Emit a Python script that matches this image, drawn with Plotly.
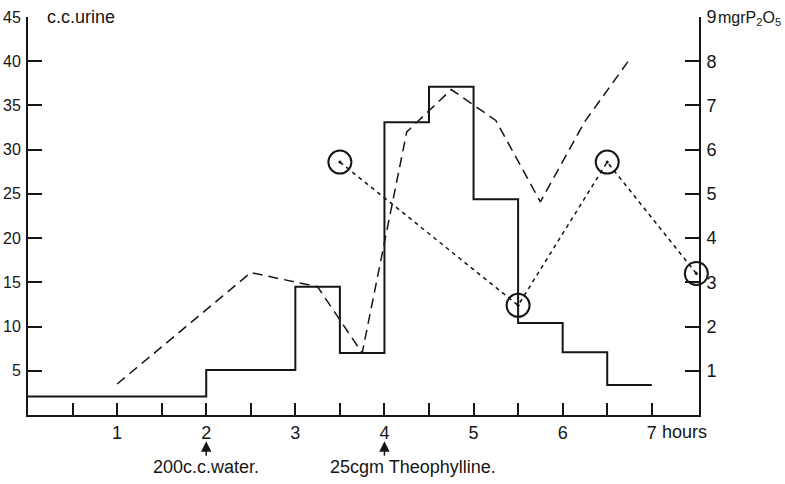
import plotly.graph_objects as go

# Urine volume (c.c.) per interval, step line (left axis)
step_x = [0, 2, 3, 3.5, 4, 4.5, 5, 5.5, 6, 6.5, 7]
step_y = [2.1, 5.1, 14.5, 7.0, 33.1, 37.1, 24.4, 10.4, 7.1, 3.4, 3.4]

# Dashed line (left-axis units)
dash_x = [1.0, 2.5, 3.25, 3.75, 4.25, 4.75, 5.25, 5.75, 6.25, 6.75]
dash_y = [3.5, 16.1, 14.5, 7.0, 32.0, 36.8, 33.3, 24.1, 33.2, 40.2]

# Dotted line with circles (mgr P2O5, right axis)
dot_x = [3.5, 5.5, 6.5, 7.5]
dot_y = [5.72, 2.48, 5.72, 3.2]

left_ticks = [5, 10, 15, 20, 25, 30, 35, 40, 45]
right_ticks = [1, 2, 3, 4, 5, 6, 7, 8, 9]
x_ticks = [1, 2, 3, 4, 5, 6, 7]
x_minor = [0.5, 1.5, 2.5, 3.5, 4.5, 5.5, 6.5]

INK = "#161616"
FONT = "Liberation Sans, Arial, sans-serif"

fig = go.Figure()
fig.add_trace(go.Scatter(x=step_x, y=step_y, mode="lines", line_shape="hv",
                         line=dict(color=INK, width=2), yaxis="y", showlegend=False))
fig.add_trace(go.Scatter(x=dash_x, y=dash_y, mode="lines",
                         line=dict(color=INK, width=1.5, dash="10px,6px"), yaxis="y", showlegend=False))
fig.add_trace(go.Scatter(x=dot_x, y=dot_y, mode="lines+markers",
                         line=dict(color=INK, width=1.5, dash="4px,4px"),
                         marker=dict(symbol="circle-open-dot", size=23, color=INK,
                                     line=dict(color=INK, width=2)),
                         cliponaxis=False, yaxis="y2", showlegend=False))

fig.update_layout(
    width=785, height=484, autosize=False,
    margin=dict(l=28, r=86, t=17, b=69, autoexpand=False),
    paper_bgcolor="white", plot_bgcolor="white",
    font=dict(family=FONT, size=18, color=INK),
    xaxis=dict(range=[0, 7.53], showgrid=False, zeroline=False, showline=True,
               automargin=False,
               linecolor=INK, linewidth=2, tickvals=x_ticks,
               ticktext=[str(v) for v in x_ticks], ticks="inside", ticklen=12,
               tickwidth=1.5, tickcolor=INK,
               minor=dict(tickvals=x_minor, ticks="inside", ticklen=12,
                          tickwidth=1.5, tickcolor=INK)),
    yaxis=dict(range=[0, 45], showgrid=False, zeroline=False, showline=True,
               automargin=False, tickfont=dict(size=16), ticklabelstandoff=2,
               linecolor=INK, linewidth=2, tickvals=left_ticks,
               ticks="inside", ticklen=14, tickwidth=1.5, tickcolor=INK),
    yaxis2=dict(range=[0, 9], overlaying="y", side="right", anchor="x",
                automargin=False, ticklabelstandoff=2,
                showgrid=False, zeroline=False, showline=True,
                linecolor=INK, linewidth=2, tickvals=right_ticks,
                ticks="inside", ticklen=14, tickwidth=1.5, tickcolor=INK),
)

ann = [
    dict(text="c.c.urine", xref="paper", yref="paper", x=0.025, y=1.0,
         xanchor="left", yanchor="middle", showarrow=False),
    dict(text="mgrP<sub>2</sub>O<sub>5</sub>", xref="paper", yref="paper", x=1.025, y=0.995,
         xanchor="left", yanchor="middle", showarrow=False, font=dict(size=16)),
    dict(text="hours", xref="paper", yref="paper", x=0.942, y=-0.043,
         xanchor="left", yanchor="middle", showarrow=False),
    dict(text="200c.c.water.", xref="x", yref="paper", x=2, y=-0.131,
         xanchor="center", yanchor="middle", showarrow=False),
    dict(text="25cgm Theophylline.", xref="x", yref="paper", x=4.32, y=-0.131,
         xanchor="center", yanchor="middle", showarrow=False),
]
for xv in [2, 4]:
    ann.append(dict(text="", xref="x", yref="paper", x=xv, y=-0.066,
                    showarrow=True, ax=0, ay=16, arrowhead=2, arrowsize=1.4,
                    arrowwidth=1.5, arrowcolor=INK))
fig.update_layout(annotations=ann)

fig.write_html("out.html")
